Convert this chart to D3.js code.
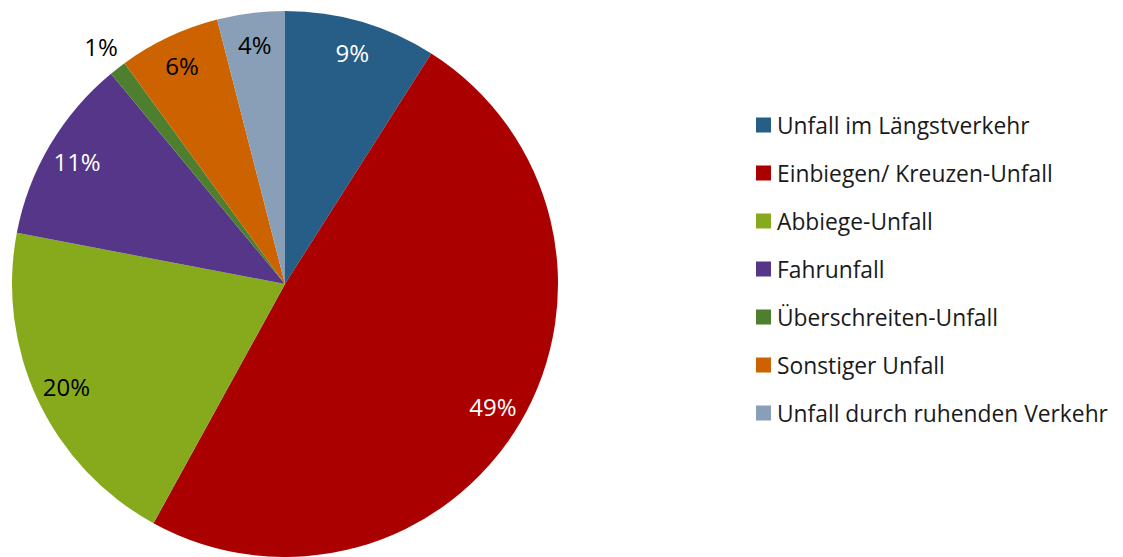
<!DOCTYPE html>
<html>
<head>
<meta charset="utf-8">
<script src="https://cdn.jsdelivr.net/npm/d3@7"></script>
<style>
  html, body { margin: 0; padding: 0; background: #fff; }
  svg { display: block; }
  text { font-family: "Open Sans", "Noto Sans", sans-serif; }
</style>
</head>
<body>
<svg id="chart" width="1123" height="557"></svg>
<script>
// Unfalltypen (Anteile in %)
const categories = [
  "Unfall im Längstverkehr",
  "Einbiegen/ Kreuzen-Unfall",
  "Abbiege-Unfall",
  "Fahrunfall",
  "Überschreiten-Unfall",
  "Sonstiger Unfall",
  "Unfall durch ruhenden Verkehr"
];
const values = [9, 49, 20, 11, 1, 6, 4];
const colors = ["#265E87", "#AA0000", "#86AA1C", "#553689", "#4E7F2E", "#CC6200", "#889FB7"];
const labelColors = ["#fff", "#fff", "#000", "#fff", "#000", "#000", "#000"];

const cx = 285, cy = 284, R = 273;

const svg = d3.select("#chart");

const data = categories.map((c, i) => ({ name: c, value: values[i], i }));

const pie = d3.pie().value(d => d.value).sort(null);
const arcs = pie(data);

const arc = d3.arc().innerRadius(0).outerRadius(R);
const labelArc = d3.arc().innerRadius(R * 0.885).outerRadius(R * 0.885);
const outerArc = d3.arc().innerRadius(R * 1.1).outerRadius(R * 1.1);

const g = svg.append("g").attr("transform", `translate(${cx},${cy})`);

g.selectAll("path.slice")
  .data(arcs)
  .join("path")
  .attr("class", "slice")
  .attr("d", arc)
  .attr("fill", d => colors[d.data.i]);

// Small slices get their label placed outside the pie
g.selectAll("text.lbl")
  .data(arcs)
  .join("text")
  .attr("class", "lbl")
  .each(function(d) {
    const small = d.data.value < 2;
    const [x, y] = small ? outerArc.centroid(d) : labelArc.centroid(d);
    d3.select(this).attr("x", x).attr("y", y);
  })
  .attr("text-anchor", "middle")
  .attr("dominant-baseline", "central")
  .attr("font-size", 24)
  .attr("fill", d => labelColors[d.data.i])
  .text(d => d.data.value + "%");

// Legend
const legend = svg.append("g").attr("transform", "translate(756,125)");
const rowH = 48;
const rows = legend.selectAll("g.row")
  .data(data)
  .join("g")
  .attr("class", "row")
  .attr("transform", (d, i) => `translate(0,${i * rowH})`);

rows.append("rect")
  .attr("x", 0).attr("y", -7.5)
  .attr("width", 15).attr("height", 15)
  .attr("fill", d => colors[d.i]);

rows.append("text")
  .attr("x", 21).attr("y", 0)
  .attr("dominant-baseline", "central")
  .attr("font-size", 22.8)
  .attr("fill", "#1a1a1a")
  .text(d => d.name);
</script>
</body>
</html>
